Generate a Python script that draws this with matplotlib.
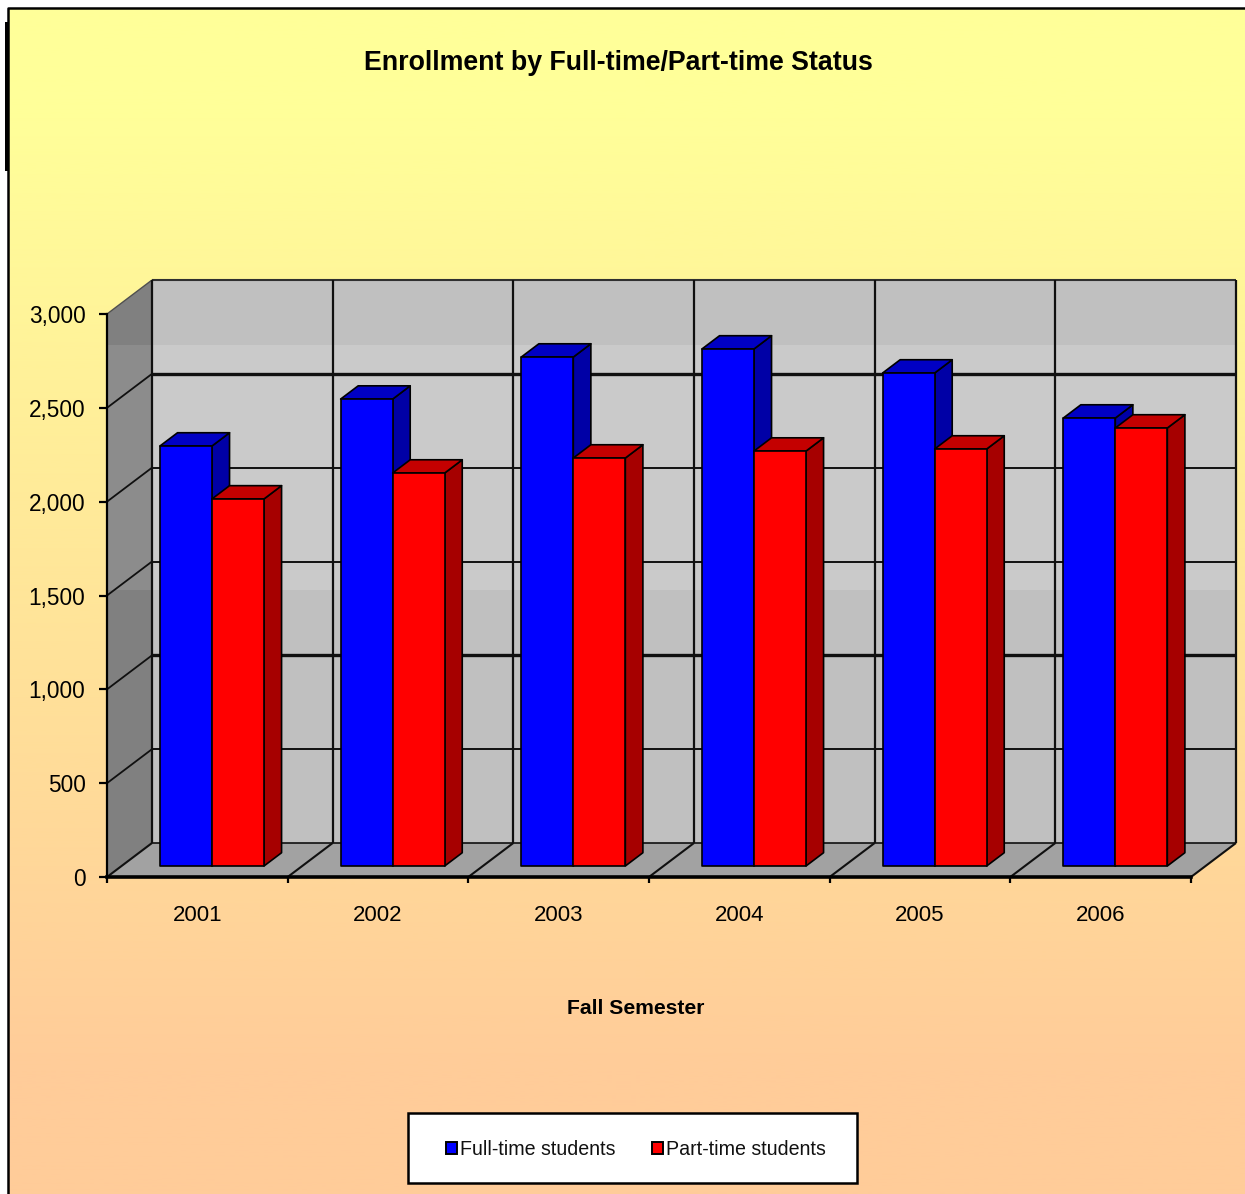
import numpy as np
import matplotlib
matplotlib.use("Agg")
import matplotlib.pyplot as plt
from matplotlib.patches import Polygon, Rectangle, Patch

years = ["2001", "2002", "2003", "2004", "2005", "2006"]
full_time = [2238, 2488, 2712, 2755, 2627, 2387]
part_time = [1956, 2094, 2174, 2211, 2222, 2334]
y_ticks = [0, 500, 1000, 1500, 2000, 2500, 3000]
title = "Enrollment by Full-time/Part-time Status"
x_title = "Fall Semester"
series_names = ["Full-time students", "Part-time students"]

plt.rcParams["font.family"] = ["Liberation Sans", "DejaVu Sans"]
W, H = 1245, 1194
fig = plt.figure(figsize=(W / 100, H / 100), dpi=100, facecolor="white")

# ---- pixel-space background layer
bg = fig.add_axes([0, 0, 1, 1], zorder=0)
bg.set_xlim(0, W); bg.set_ylim(H, 0); bg.axis("off")
rows = np.arange(H)
t = np.clip((rows - 110) / (1070 - 110), 0, 1)[:, None, None]
top, bot = np.array([255, 255, 153]) / 255, np.array([255, 204, 153]) / 255
grad = top * (1 - t) + bot * t
bg.imshow(grad, extent=(8, W, H, 8), aspect="auto", zorder=0)
bg.set_xlim(0, W); bg.set_ylim(H, 0)
bg.plot([8, 8, W], [H, 8, 8], color="black", lw=1.8, solid_capstyle="butt", zorder=1)
bg.add_patch(Rectangle((5, 22), 4, 149, fc="black", ec="none", zorder=1))
bg.add_patch(Rectangle((408, 1113), 449, 70, fc="white", ec="black", lw=1.8, zorder=1))

# ---- chart axes: the front plane of the 3-D box
L, R, Y0, Y3 = 107, 1191, 877, 314
ax = fig.add_axes([L / W, 1 - Y0 / H, (R - L) / W, (Y0 - Y3) / H], zorder=1)
ax.patch.set_visible(False)
n = len(years)
ax.set_xlim(0, n); ax.set_ylim(0, 3000)
for s in ("top", "right"):
    ax.spines[s].set_visible(False)
ax.spines["left"].set_linewidth(1.6)
ax.spines["bottom"].set_linewidth(2.6)

DX, DY = 45 / ((R - L) / n), 34 * 3000 / (Y0 - Y3)   # wall depth in data units


def poly(pts, **kw):
    kw.setdefault("clip_on", False)
    kw.setdefault("lw", 0)
    p = Polygon(pts, closed=True, **kw)
    ax.add_patch(p)
    return p


def line(xs, ys, lw=1.5, color="#101010", z=2):
    ax.plot(xs, ys, color=color, lw=lw, clip_on=False, zorder=z, solid_capstyle="butt")


ymax = y_ticks[-1]
band_lo, band_hi = 1529, 2835   # lighter band across the walls
# walls
poly([(DX, DY), (n + DX, DY), (n + DX, ymax + DY), (DX, ymax + DY)], fc="#C0C0C0", ec="none", zorder=1)
poly([(DX, band_lo), (n + DX, band_lo), (n + DX, band_hi), (DX, band_hi)], fc="#CACACA", ec="none", zorder=1)
poly([(0, 0), (DX, DY), (DX, ymax + DY), (0, ymax)], fc="#808080", ec="none", zorder=1)
poly([(0, band_lo), (DX, band_lo), (DX, band_hi), (0, band_hi)], fc="#8C8C8C", ec="none", zorder=1)
poly([(0, 0), (n, 0), (n + DX, DY), (DX, DY)], fc="#A2A2A2", ec="none", zorder=1)

# gridlines on back and side wall
heavy = {1000, 2500}
for v in y_ticks:
    w = 2.4 if v in heavy else 1.4
    line([DX, n + DX], [v + DY, v + DY], lw=w if v else 1.2)
    if v and v < ymax:
        line([0, DX], [v, v + DY], lw=1.3)
line([DX, n + DX], [ymax + DY, ymax + DY], lw=1.5, color="#303030")
line([0, DX], [ymax, ymax + DY], lw=1.0, color="#505050")
for k in range(n + 1):
    line([k + DX, k + DX], [DY, ymax + DY], lw=1.6)
    line([k, k + DX], [0, DY], lw=1.5)

# 3-D bars
F = 11 / 34      # how far into the box the bar fronts stand
BD = 0.39        # bar depth, as a share of the wall depth
LEFT, BW = 0.2125, 0.288
fx, fy = DX * F, DY * F
bx, by = DX * BD, DY * BD
colors = [("#0000FF", "#0000C4", "#0000A6"), ("#FF0000", "#C40000", "#A60000")]
for i in range(n):
    for j, vals in enumerate((full_time, part_time)):
        x0 = i + LEFT + j * BW + fx
        x1 = x0 + BW
        v = vals[i]
        c_front, c_top, c_side = colors[j]
        kw = dict(ec="black", lw=1.2, joinstyle="round", zorder=3 + 0.01 * i + 0.001 * j)
        poly([(x1, fy), (x1 + bx, fy + by), (x1 + bx, fy + by + v), (x1, fy + v)], fc=c_side, **kw)
        poly([(x0, fy + v), (x1, fy + v), (x1 + bx, fy + by + v), (x0 + bx, fy + by + v)], fc=c_top, **kw)
        poly([(x0, fy), (x1, fy), (x1, fy + v), (x0, fy + v)], fc=c_front, **kw)

# ticks
ax.set_yticks(y_ticks)
ax.set_yticklabels([f"{v:,}" for v in y_ticks], fontsize=16.3, color="black")
ax.tick_params(axis="y", length=5.5, width=1.6, pad=10)
ax.set_xticks(np.arange(n) + 0.5)
ax.set_xticklabels(years, fontsize=16, color="black")
ax.tick_params(axis="x", which="major", length=0, pad=20)
ax.set_xticks(np.arange(n + 1), minor=True)
ax.tick_params(axis="x", which="minor", length=4.5, width=1.6)

# text
fig.text(618 / W, 1 - 63 / H, title, fontsize=19.3, fontweight="bold", ha="center", va="center", color="black")
fig.text(636 / W, 1 - 1009 / H, x_title, fontsize=15.2, fontweight="bold", ha="center", va="center", color="black")

handles = [Patch(fc="#0000FF", ec="black", lw=1.4, label=series_names[0]),
           Patch(fc="#FF0000", ec="black", lw=1.4, label=series_names[1])]
leg = ax.legend(handles=handles, loc="center", ncol=2, frameon=False, fontsize=14.15,
                bbox_to_anchor=(636 / W, 1 - 1149.5 / H), bbox_transform=fig.transFigure,
                handlelength=0.56, handleheight=0.56, handletextpad=0.16, columnspacing=1.83,
                borderaxespad=0, borderpad=0, labelcolor="black")
for t_ in leg.get_texts():
    t_.set_color("#111111")

fig.savefig("out.png", dpi=100, facecolor="white")
